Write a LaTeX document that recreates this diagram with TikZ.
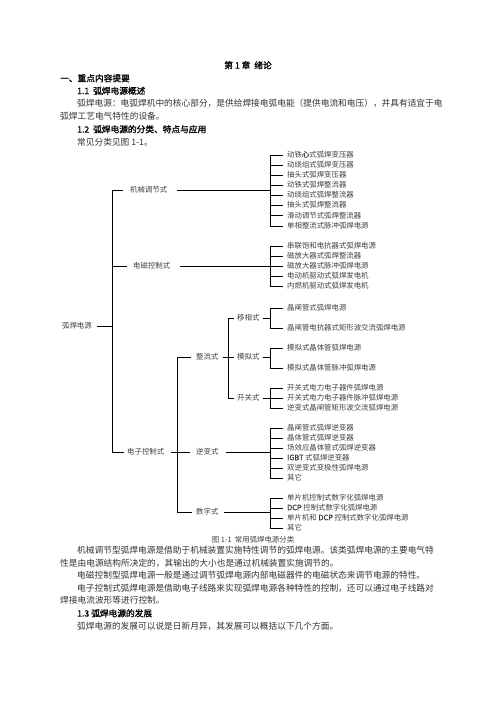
\documentclass[tikz,border=0pt]{standalone}
\usepackage{fontspec}
\newfontfamily\cjk{Noto Sans CJK SC}
\newfontfamily\cjkb[FakeBold=1.2]{Noto Sans CJK SC}
\newcommand\treefont{\cjk\fontsize{7.4}{9}\selectfont}
\newcommand\bodyfont{\cjk\fontsize{8.7}{10}\selectfont}
\newcommand\headfont{\cjkb\fontsize{8.7}{10}\selectfont}
\tikzset{
  tl/.style={font=\treefont, text=black!75, inner sep=0pt, anchor=west, text height=5.9pt, text depth=1.5pt},
  bt/.style={font=\bodyfont, text=black!80, inner sep=0pt, anchor=west, text height=6.9pt, text depth=1.8pt},
  hd/.style={bt, font=\headfont, text=black},
  ln/.style={draw=black, line width=0.7pt},
}
\begin{document}
\begin{tikzpicture}[x=1pt,y=-1pt]
\useasboundingbox[fill=white] (0,0) rectangle (496,702);

% ---------- header text ----------
\node[hd, anchor=center] (title) at (248,66) {第 1 章\ \ 绪论};
\node[hd] (h1) at (60,79) {一、重点内容提要};
\node[hd] (h11) at (77,91.5) {1.1\ \ 弧焊电源概述};
\node[bt] (p1a) at (77,104) {弧焊电源：电弧焊机中的核心部分，是供给焊接电弧电能（提供电流和电压），并具有适宜于电};
\node[bt] (p1b) at (60,117) {弧焊工艺电气特性的设备。};
\node[hd] (h12) at (77,130) {1.2\ \ 弧焊电源的分类、特点与应用};
\node[bt] (p2) at (77,142.5) {常见分类见图 1-1。};

% ---------- tree ----------
\coordinate (tr) at (112,0);
\coordinate (v1) at (270,0);
\coordinate (v2) at (177,0);
\coordinate (v3) at (228,0);

\node[tl] (root) at (62,326) {弧焊电源};
\node[tl] (jx) at (130,190) {机械调节式};
\node[tl] (dc) at (133,266) {电磁控制式};
\node[tl] (dz) at (127,452) {电子控制式};
\node[tl] (zl) at (196,357.5) {整流式};
\node[tl] (nb) at (196,452) {逆变式};
\node[tl] (sz) at (196,512) {数字式};
\node[tl] (yx) at (237,318) {移相式};
\node[tl] (mn) at (237,357.5) {模拟式};
\node[tl] (kg) at (237,398) {开关式};

% trunk
\draw[ln] ([xshift=5pt]root.east) -- (tr |- root.east);
\draw[ln] (tr |- jx.west) -- (tr |- dz.west);
\draw[ln] (tr |- jx.west) -- ([xshift=-7pt]jx.west);
\draw[ln] (tr |- dc.west) -- ([xshift=-6pt]dc.west);
\draw[ln] (tr |- dz.west) -- ([xshift=-3pt]dz.west);

% level 1 to groups
\draw[ln] ([xshift=10pt]jx.east) -- (v1 |- jx.east);
\draw[ln] ([xshift=10pt]dc.east) -- (v1 |- dc.east);

% electronic control
\draw[ln] ([xshift=7pt]dz.east) -- ([xshift=-6pt]nb.west);
\draw[ln] (v2 |- zl.west) -- (v2 |- sz.west);
\draw[ln] (v2 |- zl.west) -- ([xshift=-5pt]zl.west);
\draw[ln] (v2 |- sz.west) -- ([xshift=-4pt]sz.west);

% rectifier
\draw[ln] ([xshift=4pt]zl.east) -- ([xshift=-3pt]mn.west);
\draw[ln] (v3 |- yx.west) -- (v3 |- kg.west);
\draw[ln] (v3 |- yx.west) -- ([xshift=-3pt]yx.west);
\draw[ln] (v3 |- kg.west) -- ([xshift=-3pt]kg.west);
\draw[ln] ([xshift=3pt]yx.east) -- (v1 |- yx.east);
\draw[ln] ([xshift=3pt]mn.east) -- (v1 |- mn.east);
\draw[ln] ([xshift=3pt]kg.east) -- (v1 |- kg.east);
\draw[ln] ([xshift=7pt]nb.east) -- (v1 |- nb.east);
\draw[ln] ([xshift=5pt]sz.east) -- (v1 |- sz.east);

% leaf groups
\foreach \t [count=\i from 0] in {动铁{\cjkb 心}式弧焊变压器,动绕组式弧焊变压器,抽头式弧焊变压器,动铁式弧焊整流器,动绕组式弧焊整流器,抽头式弧焊整流器,滑动调节式弧焊整流器,单相整流式脉冲弧焊电源}{
  \node[tl] (a\i) at (287,{155+10.14*\i}) {\t};
  \draw[ln] ([xshift=-4pt]a\i.west) -- ++(-13,0);
}
\draw[ln] ([xshift=-17pt]a0.west) -- ([xshift=-17pt]a7.west);

\foreach \t [count=\i from 0] in {串联饱和电抗器式弧焊电源,磁放大器式弧焊整流器,磁放大器式脉冲弧焊电源,电动机驱动式弧焊发电机,内燃机驱动式弧焊发电机}{
  \node[tl] (b\i) at (287,{246+10*\i}) {\t};
  \draw[ln] ([xshift=-4pt]b\i.west) -- ++(-13,0);
}
\draw[ln] ([xshift=-17pt]b0.west) -- ([xshift=-17pt]b4.west);

\foreach \t [count=\i from 0] in {晶闸管式弧焊电源,晶闸管电抗器式矩形波交流弧焊电源}{
  \node[tl] (c\i) at (287,{308+20*\i}) {\t};
  \draw[ln] ([xshift=-4pt]c\i.west) -- ++(-13,0);
}
\draw[ln] ([xshift=-17pt]c0.west) -- ([xshift=-17pt]c1.west);

\foreach \t [count=\i from 0] in {模拟式晶体管弧焊电源,模拟式晶体管脉冲弧焊电源}{
  \node[tl] (d\i) at (287,{348+20*\i}) {\t};
  \draw[ln] ([xshift=-4pt]d\i.west) -- ++(-13,0);
}
\draw[ln] ([xshift=-17pt]d0.west) -- ([xshift=-17pt]d1.west);

\foreach \t [count=\i from 0] in {开关式电力电子器件弧焊电源,开关式电力电子器件脉冲弧焊电源,逆变式晶闸管矩形波交流弧焊电源}{
  \node[tl] (e\i) at (287,{388+10*\i}) {\t};
  \draw[ln] ([xshift=-4pt]e\i.west) -- ++(-13,0);
}
\draw[ln] ([xshift=-17pt]e0.west) -- ([xshift=-17pt]e2.west);

\foreach \t [count=\i from 0] in {晶闸管式弧焊逆变器,晶体管式弧焊逆变器,场效应晶体管式弧焊逆变器,{\cjkb IGBT} 式弧焊逆变器,双逆变式变极性弧焊电源,其它}{
  \node[tl] (f\i) at (287,{428+10*\i}) {\t};
  \draw[ln] ([xshift=-4pt]f\i.west) -- ++(-13,0);
}
\draw[ln] ([xshift=-17pt]f0.west) -- ([xshift=-17pt]f5.west);

\foreach \t [count=\i from 0] in {单片机控制式数字化弧焊电源,{\cjkb DCP} 控制式数字化弧焊电源,单片机和 {\cjkb DCP} 控制式数字化弧焊电源,其它}{
  \node[tl] (g\i) at (287,{498+10*\i}) {\t};
  \draw[ln] ([xshift=-4pt]g\i.west) -- ++(-13,0);
}
\draw[ln] ([xshift=-17pt]g0.west) -- ([xshift=-17pt]g3.west);

\node[tl, anchor=center] (cap) at (253,540) {图 1-1\ \ 常用弧焊电源分类};

% ---------- body text ----------
\node[bt] (p3a) at (77,551) {机械调节型弧焊电源是借助于机械装置实施特性调节的弧焊电源。该类弧焊电源的主要电气特};
\node[bt] (p3b) at (60,563.5) {性是由电源结构所决定的，其输出的大小也是通过机械装置实施调节的。};
\node[bt] (p4) at (77,576) {电磁控制型弧焊电源一般是通过调节弧焊电源内部电磁器件的电磁状态来调节电源的特性。};
\node[bt] (p5a) at (77,588.5) {电子控制式弧焊电源是借助电子线路来实现弧焊电源各种特性的控制，还可以通过电子线路对};
\node[bt] (p5b) at (60,601) {焊接电流波形等进行控制。};
\node[hd] (h13) at (77,614) {1.3 弧焊电源的发展};
\node[bt] (p6) at (77,627) {弧焊电源的发展可以说是日新月异，其发展可以概括以下几个方面。};
\end{tikzpicture}
\end{document}
